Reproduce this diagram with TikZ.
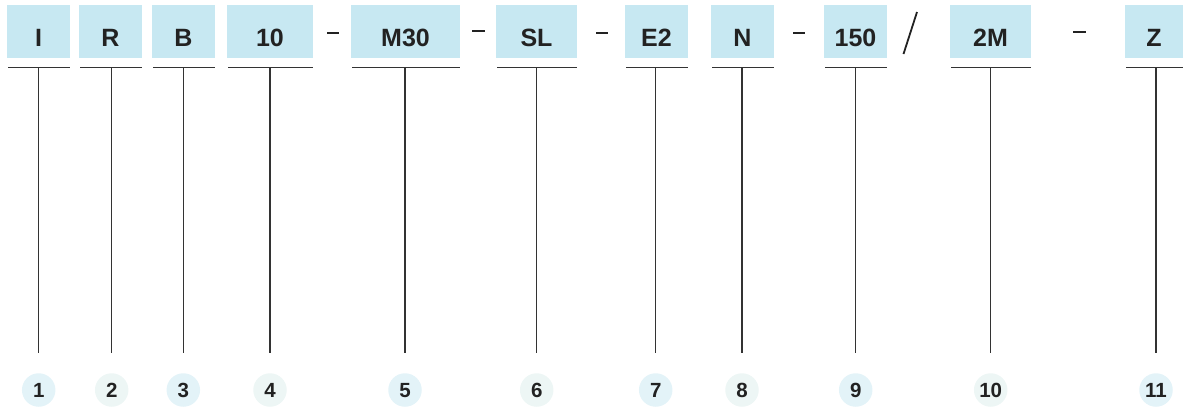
\documentclass[tikz,border=0pt]{standalone}
\usepackage{fontspec}
\setmainfont{Liberation Sans}
\definecolor{boxfill}{HTML}{C7E8F2}
\definecolor{circA}{HTML}{E3F3F8}
\definecolor{circB}{HTML}{EDF6F5}
\definecolor{ink}{HTML}{222222}
\definecolor{rule}{HTML}{333333}
\begin{document}
\begin{tikzpicture}[x=1pt,y=-1pt,
  codebox/.style={fill=boxfill,draw=none,inner sep=0pt},
  codetext/.style={anchor=base,inner sep=0pt,text=ink,font=\fontsize{25}{30}\selectfont\bfseries},
  numcirc/.style={circle,minimum size=33.5pt,inner sep=0pt,text=ink,font=\fontsize{20.5}{24}\selectfont\bfseries},
  underline/.style={draw=rule,line width=1.4pt},
  stem/.style={draw=rule,line width=1.2pt},
  sep/.style={draw=ink,line width=2.4pt}]
\useasboundingbox (0,0) rectangle (1183,408);
% boxes: name, left, right, stem x, label, number, circle colour
\foreach \n/\l/\r/\sx/\t/\k/\c in {
  a/7/70/38.7/I/1/circA,
  b/79/142/111.7/R/2/circB,
  c/152/215/183.3/B/3/circA,
  d/227/313/270/10/4/circB,
  e/351/460/405/M30/5/circA,
  f/496/577/536.7/SL/6/circB,
  g/625/688/655.7/E2/7/circA,
  h/711/774/742/N/8/circB,
  i/824/887/855.7/150/9/circA,
  j/950/1031/990.7/2M/10/circB,
  k/1125/1183/1156/Z/11/circA} {
  \fill[boxfill] (\l,5) rectangle (\r,58);
  \node[codetext] (t\n) at ({(\l+\r)/2},46) {\t};
  \coordinate (ul\n) at (\l+1,67.7);
  \coordinate (ur\n) at (\r,67.7);
  \coordinate (top\n) at (\sx,67.7);
  \coordinate (bot\n) at (\sx,353);
  \draw[underline] (ul\n) -- (ur\n);
  \draw[stem] (top\n) -- (bot\n);
  \node[numcirc,fill=\c] (n\n) at (\sx,390) {};
  \node[anchor=base,inner sep=0pt,text=ink,font=\fontsize{20.5}{24}\selectfont\bfseries] at (\sx,397.5) {\k};
}
% separators
\coordinate (s1a) at (327,33); \coordinate (s1b) at (339,33);
\coordinate (s2a) at (472,31); \coordinate (s2b) at (485,31);
\coordinate (s3a) at (596,33); \coordinate (s3b) at (608,33);
\coordinate (s4a) at (793,33); \coordinate (s4b) at (805,33);
\coordinate (s5a) at (903.5,54); \coordinate (s5b) at (917,12);
\coordinate (s6a) at (1073,32); \coordinate (s6b) at (1086,32);
\draw[sep] (s1a) -- (s1b);
\draw[sep] (s2a) -- (s2b);
\draw[sep] (s3a) -- (s3b);
\draw[sep] (s4a) -- (s4b);
\draw[draw=ink,line width=1.8pt] (s5a) -- (s5b);
\draw[sep] (s6a) -- (s6b);
\end{tikzpicture}
\end{document}
